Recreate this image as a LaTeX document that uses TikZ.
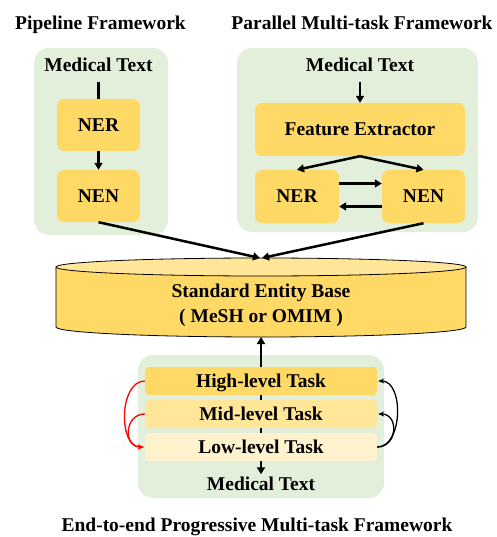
\documentclass[tikz,border=0pt]{standalone}
\usepackage{fontspec}
\setmainfont{Liberation Serif}
\usetikzlibrary{arrows.meta,calc}
\definecolor{pgreen}{HTML}{E2EFDA}
\definecolor{byellow}{HTML}{FFD966}
\definecolor{myellow}{HTML}{FFE699}
\definecolor{lyellow}{HTML}{FFF2CC}
\definecolor{cyltopc}{HTML}{FFE699}
\begin{document}
\begin{tikzpicture}[x=1pt,y=-1pt,
  font=\fontsize{19.5}{23}\selectfont\bfseries,
  panel/.style={fill=pgreen, rounded corners=15pt},
  box/.style={fill=byellow, rounded corners=7pt, inner sep=0pt, text height=13pt, text depth=0pt},
  taskbox/.style={rounded corners=4pt, inner sep=0pt, text height=13pt, text depth=0pt, minimum width=232pt, minimum height=28pt},
  arr/.style={line width=2.5pt, -{Triangle[length=7pt,width=8pt]}},
  ln/.style={line width=2.5pt},
  curv/.style={line width=1.3pt, -{Stealth[length=6pt,width=5pt]}},
  txt/.style={anchor=base, inner sep=0pt}]
\useasboundingbox (0,0) rectangle (496,537);

% titles
\node[txt] (t1) at (100.5,30) {Pipeline Framework};
\node[txt] (t2) at (362,30) {Parallel Multi-task Framework};
\node[txt] (t3) at (257,531.5) {End-to-end Progressive Multi-task Framework};

% panels
\fill[panel] (34,48) rectangle (168,235);
\fill[panel] (237,48) rectangle (478,232);
\fill[panel] (138,355) rectangle (384,498);

% pipeline
\node[txt] (mt1) at (98.5,72) {Medical Text};
\node[box, minimum width=83pt, minimum height=52pt] (ner1) at (98.5,125) {NER};
\node[box, minimum width=83pt, minimum height=52pt] (nen1) at (98.5,196) {NEN};
\draw[ln] ($(mt1.south)+(0,10)$) -- (ner1.north);
\draw[arr] (ner1.south) -- (nen1.north);

% parallel
\node[txt] (mt2) at (360,72) {Medical Text};
\node[box, minimum width=210pt, minimum height=53pt] (fe) at (360,129.5) {Feature Extractor};
\node[box, minimum width=84pt, minimum height=53pt] (ner2) at (297,196.5) {NER};
\node[box, minimum width=83pt, minimum height=53pt] (nen2) at (423.5,196.5) {NEN};
\draw[arr] ($(mt2.south)+(0,10)$) -- (fe.north);
\draw[arr] (fe.south) -- (ner2.north);
\draw[arr] (fe.south) -- (nen2.north);
\draw[arr] ($(ner2.east)+(0,-13)$) -- ($(nen2.west)+(0,-13)$);
\draw[arr] ($(nen2.west)+(0,10)$) -- ($(ner2.east)+(0,10)$);

% cylinder
\fill[byellow] (261,327) ellipse[x radius=205pt, y radius=10pt];
\fill[byellow] (56,267) rectangle (466,327);
\draw[line width=0.8pt] (56,267) -- (56,327) arc[start angle=180, end angle=360, x radius=205pt, y radius=10pt] -- (466,267);
\draw[line width=0.8pt, fill=cyltopc] (261,267) ellipse[x radius=205pt, y radius=9pt];
\coordinate (cyltop) at (261,258);
\coordinate (cylbot) at (261,337);
\node[txt] (seb1) at (261,297) {Standard Entity Base};
\node[txt] (seb2) at (261,322) {( MeSH or OMIM )};
\draw[arr] (nen1.south) -- ($(cyltop)+(-1,0)$);
\draw[arr] (nen2.south) -- ($(cyltop)+(1,0)$);

% progressive
\node[txt] (mt3) at (261,490) {Medical Text};
\draw[line width=2.5pt, {Triangle[length=7pt,width=8pt]}-{Triangle[length=7pt,width=8pt]}] ($(mt3.north)+(0,-2)$) -- (cylbot);
\node[taskbox, fill=byellow] (high) at (261,381) {High-level Task};
\node[taskbox, fill=myellow] (mid) at (261,414) {Mid-level Task};
\node[taskbox, fill=lyellow] (low) at (261,447) {Low-level Task};
\draw[curv, red] (high.west) to[out=180, in=180] ($(low.west)+(-1,0)$);
\draw[curv, red] (mid.west) to[out=180, in=180, looseness=1.6] ($(low.west)+(-1,0)$);
\draw[curv] (low.east) to[out=0, in=0] ($(high.east)+(1,0)$);
\draw[curv] (low.east) to[out=0, in=0, looseness=1.6] ($(mid.east)+(1,0)$);
\end{tikzpicture}
\end{document}
